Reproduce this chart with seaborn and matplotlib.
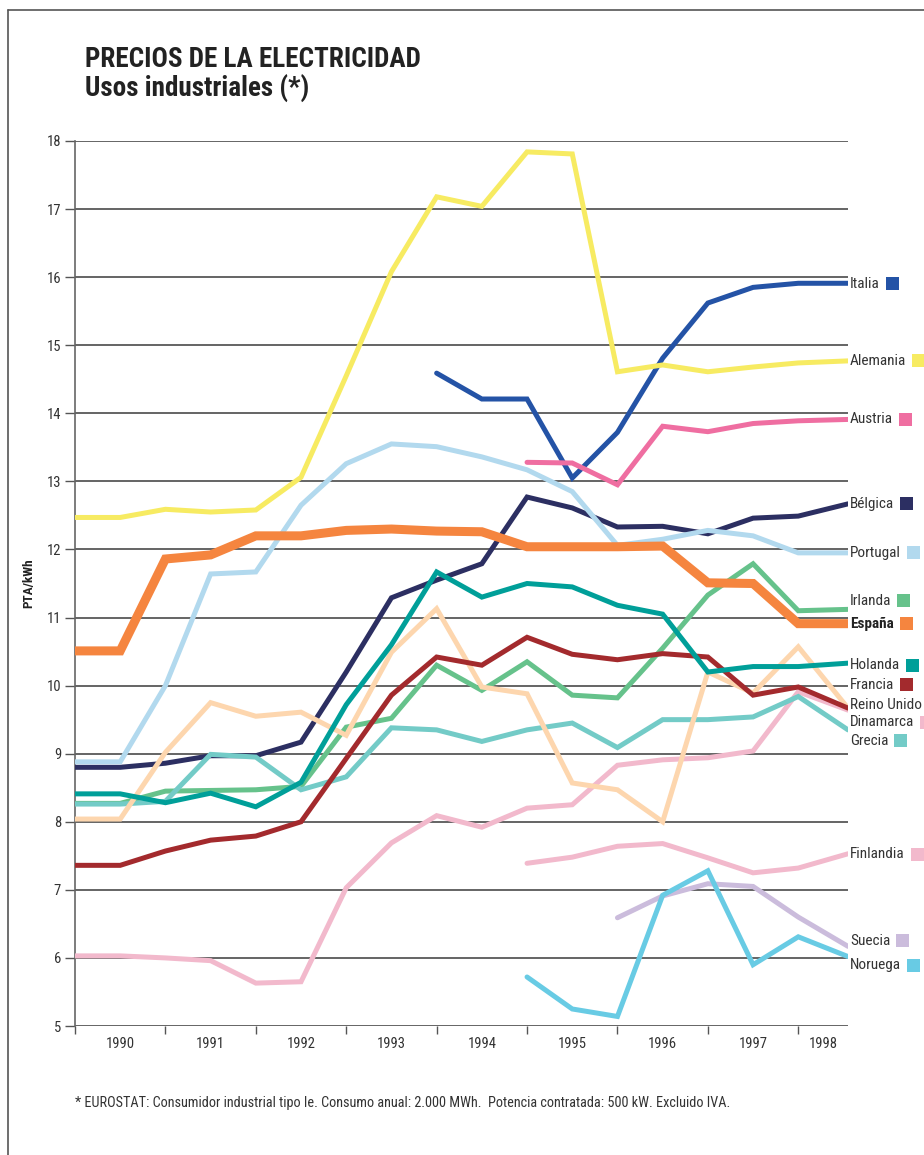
import numpy as np
import pandas as pd
import matplotlib
matplotlib.use("Agg")
import matplotlib.pyplot as plt
import seaborn as sns
from matplotlib import font_manager
from matplotlib.lines import Line2D
from matplotlib.patches import Rectangle

# half-year points, 1990 -> 1998 (last point at the right edge)
periodos = [1990.0, 1990.5, 1991.0, 1991.5, 1992.0, 1992.5, 1993.0, 1993.5, 1994.0,
            1994.5, 1995.0, 1995.5, 1996.0, 1996.5, 1997.0, 1997.5, 1998.0, 1998.55]
anios = [1990, 1991, 1992, 1993, 1994, 1995, 1996, 1997, 1998]

N = np.nan
alemania = [12.47, 12.47, 12.59, 12.55, 12.58, 13.06, 14.55, 16.08, 17.18,
            17.04, 17.84, 17.81, 14.61, 14.71, 14.61, 14.68, 14.74, 14.77]
italia = [N, N, N, N, N, N, N, N, 14.59,
          14.21, 14.21, 13.05, 13.72, 14.81, 15.62, 15.85, 15.91, 15.91]
austria = [N, N, N, N, N, N, N, N, N,
           N, 13.28, 13.27, 12.95, 13.81, 13.73, 13.85, 13.89, 13.91]
belgica = [8.80, 8.80, 8.86, 8.97, 8.97, 9.17, 10.20, 11.29, 11.55,
           11.79, 12.77, 12.61, 12.33, 12.34, 12.23, 12.46, 12.49, 12.67]
portugal = [8.88, 8.88, 10.00, 11.64, 11.67, 12.65, 13.26, 13.55, 13.51,
            13.36, 13.17, 12.85, 12.06, 12.15, 12.28, 12.20, 11.95, 11.95]
irlanda = [8.27, 8.27, 8.45, 8.46, 8.47, 8.52, 9.39, 9.52, 10.30,
           9.93, 10.35, 9.86, 9.82, 10.55, 11.33, 11.79, 11.10, 11.12]
espana = [10.51, 10.51, 11.86, 11.92, 12.20, 12.20, 12.28, 12.30, 12.27,
          12.26, 12.04, 12.04, 12.04, 12.05, 11.51, 11.50, 10.91, 10.91]
holanda = [8.41, 8.41, 8.28, 8.42, 8.22, 8.58, 9.72, 10.60, 11.67,
           11.30, 11.50, 11.45, 11.18, 11.05, 10.20, 10.28, 10.28, 10.33]
francia = [7.36, 7.36, 7.57, 7.73, 7.79, 8.00, 8.93, 9.86, 10.42,
           10.30, 10.71, 10.46, 10.38, 10.47, 10.42, 9.86, 9.98, 9.67]
reino_unido = [8.04, 8.04, 9.02, 9.75, 9.55, 9.61, 9.27, 10.49, 11.13,
               9.98, 9.88, 8.57, 8.47, 8.00, 10.20, 9.89, 10.57, 9.67]
dinamarca = [6.03, 6.03, 6.00, 5.96, 5.63, 5.65, 7.03, 7.69, 8.09,
             7.92, 8.20, 8.25, 8.83, 8.91, 8.94, 9.04, 9.91, 9.64]
grecia = [8.26, 8.26, 8.30, 8.99, 8.95, 8.47, 8.66, 9.38, 9.35,
          9.18, 9.35, 9.45, 9.09, 9.50, 9.50, 9.54, 9.84, 9.35]
finlandia = [N, N, N, N, N, N, N, N, N,
             N, 7.39, 7.48, 7.64, 7.68, 7.47, 7.25, 7.32, 7.53]
suecia = [N, N, N, N, N, N, N, N, N,
          N, N, N, 6.59, 6.91, 7.09, 7.05, 6.60, 6.17]
noruega = [N, N, N, N, N, N, N, N, N,
           N, 5.72, 5.25, 5.14, 6.92, 7.28, 5.90, 6.31, 6.02]

series = {
    "Italia": italia, "Alemania": alemania, "Austria": austria, "Bélgica": belgica,
    "Portugal": portugal, "Dinamarca": dinamarca, "Finlandia": finlandia,
    "Suecia": suecia, "Noruega": noruega, "Irlanda": irlanda, "Grecia": grecia,
    "Reino Unido": reino_unido, "Francia": francia, "Holanda": holanda,
    "España": espana,
}
colores = {
    "Italia": "#2453a6", "Alemania": "#f7eb62", "Austria": "#ef6ea1",
    "Bélgica": "#2c2f62", "Portugal": "#b2d9ee", "Irlanda": "#66c28b",
    "España": "#f5853f", "Holanda": "#009f99", "Francia": "#a32a2d",
    "Reino Unido": "#fdd6ae", "Dinamarca": "#f2b9cc", "Grecia": "#73cbc7",
    "Finlandia": "#f2b9cc", "Suecia": "#cbbcdc", "Noruega": "#68cbe4",
}
# label order and vertical position of the right-hand labels
etiquetas = ["Italia", "Alemania", "Austria", "Bélgica", "Portugal", "Irlanda", "España",
             "Holanda", "Francia", "Reino Unido", "Dinamarca", "Grecia", "Finlandia",
             "Suecia", "Noruega"]
pos_etiqueta = [15.90, 14.77, 13.91, 12.67, 11.95, 11.25, 10.91, 10.30, 10.01, 9.71,
                9.46, 9.19, 7.52, 6.25, 5.89]

filas = []
for pais, valores in series.items():
    for x, v in zip(periodos, valores):
        if not np.isnan(v):
            filas.append({"periodo": x, "precio": v, "pais": pais})
df = pd.DataFrame(filas)

sns.set_theme(style="white")
nombres = {f.name for f in font_manager.fontManager.ttflist}
estrecha = "DejaVu Sans"
for cand in ["Liberation Sans Narrow", "Roboto Condensed", "Open Sans Condensed"]:
    if cand in nombres:
        estrecha = cand
        break
plt.rcParams["font.family"] = [estrecha, "DejaVu Sans"]

fig = plt.figure(figsize=(9.24, 11.55), dpi=100)
ax = fig.add_axes([75 / 924, 129 / 1155, (848 - 75) / 924, (1026 - 141) / 1155])

for y in range(5, 19):
    ax.axhline(y, color="#4a4a4a", lw=1.2, zorder=1)

for pais in series:
    sub = df[df["pais"] == pais]
    sns.lineplot(data=sub, x="periodo", y="precio", ax=ax, color=colores[pais],
                 lw=6.5 if pais == "España" else 3.6, solid_capstyle="round",
                 solid_joinstyle="miter", zorder=3, legend=False)

ax.set_xlim(anios[0], periodos[-1])
ax.set_ylim(5, 18)
ax.set_yticks(range(5, 19))
ax.set_yticklabels([str(v) for v in range(5, 19)], fontsize=10.5, color="#333333")
ax.set_xticks(anios)
ax.set_xticklabels([])
bordes = anios + [periodos[-1]]
centros = [(a + b) / 2 for a, b in zip(bordes[:-1], bordes[1:])]
ax.set_xticks(centros, minor=True)
ax.set_xticklabels([str(a) for a in anios], minor=True, fontsize=10.5, color="#333333")
ax.tick_params(axis="x", which="major", direction="out", length=6, width=1, color="#555555", bottom=True)
ax.tick_params(axis="x", which="minor", length=0, pad=8)
ax.tick_params(axis="y", direction="out", length=7, width=1, color="#555555", left=True, pad=3)
for lado in ["top", "right", "bottom"]:
    ax.spines[lado].set_visible(False)
ax.spines["left"].set_color("#666666")
ax.spines["left"].set_linewidth(1.2)
ax.set_xlabel("")
ax.set_ylabel("PTA/kWh", fontsize=9.5, fontweight="bold", color="#222222", labelpad=8)

textos = []
for pais, yv in zip(etiquetas, pos_etiqueta):
    t = ax.annotate(pais, xy=(periodos[-1], yv), xytext=(1.5, 0), textcoords="offset points",
                    va="center", ha="left", fontsize=11,
                    fontweight="bold" if pais == "España" else "normal",
                    color="#222222" if pais == "España" else "#333333",
                    annotation_clip=False)
    textos.append((pais, t))

fig.text(85 / 924, 1 - 67 / 1155, "PRECIOS DE LA ELECTRICIDAD", fontsize=19.5,
         fontweight="bold", color="#222222", va="baseline")
fig.text(85 / 924, 1 - 97 / 1155, "Usos industriales (*)", fontsize=19.5,
         fontweight="bold", color="#222222", va="baseline")
fig.text(75 / 924, 1 - 1103 / 1155,
         "* EUROSTAT: Consumidor industrial tipo Ie. Consumo anual: 2.000 MWh.  Potencia contratada: 500 kW. Excluido IVA.",
         fontsize=10.3, color="#333333", va="center")

# page frame (left and top edges)
fig.add_artist(Line2D([8 / 924, 8 / 924], [0, 1 - 10 / 1155], transform=fig.transFigure,
                      color="#555555", lw=1.2))
fig.add_artist(Line2D([8 / 924, 1], [1 - 10 / 1155, 1 - 10 / 1155], transform=fig.transFigure,
                      color="#555555", lw=1.2))

# little colour squares after each label
fig.canvas.draw()
rend = fig.canvas.get_renderer()
inv = fig.transFigure.inverted()
for pais, t in textos:
    bb = t.get_window_extent(rend)
    cy = (bb.y0 + bb.y1) / 2
    x0, y0 = inv.transform((bb.x1 + 6, cy - 6.5))
    x1, y1 = inv.transform((bb.x1 + 19, cy + 6.5))
    fig.add_artist(Rectangle((x0, y0), x1 - x0, y1 - y0, transform=fig.transFigure,
                             color=colores[pais], lw=0))

fig.savefig("out.png", dpi=100)
